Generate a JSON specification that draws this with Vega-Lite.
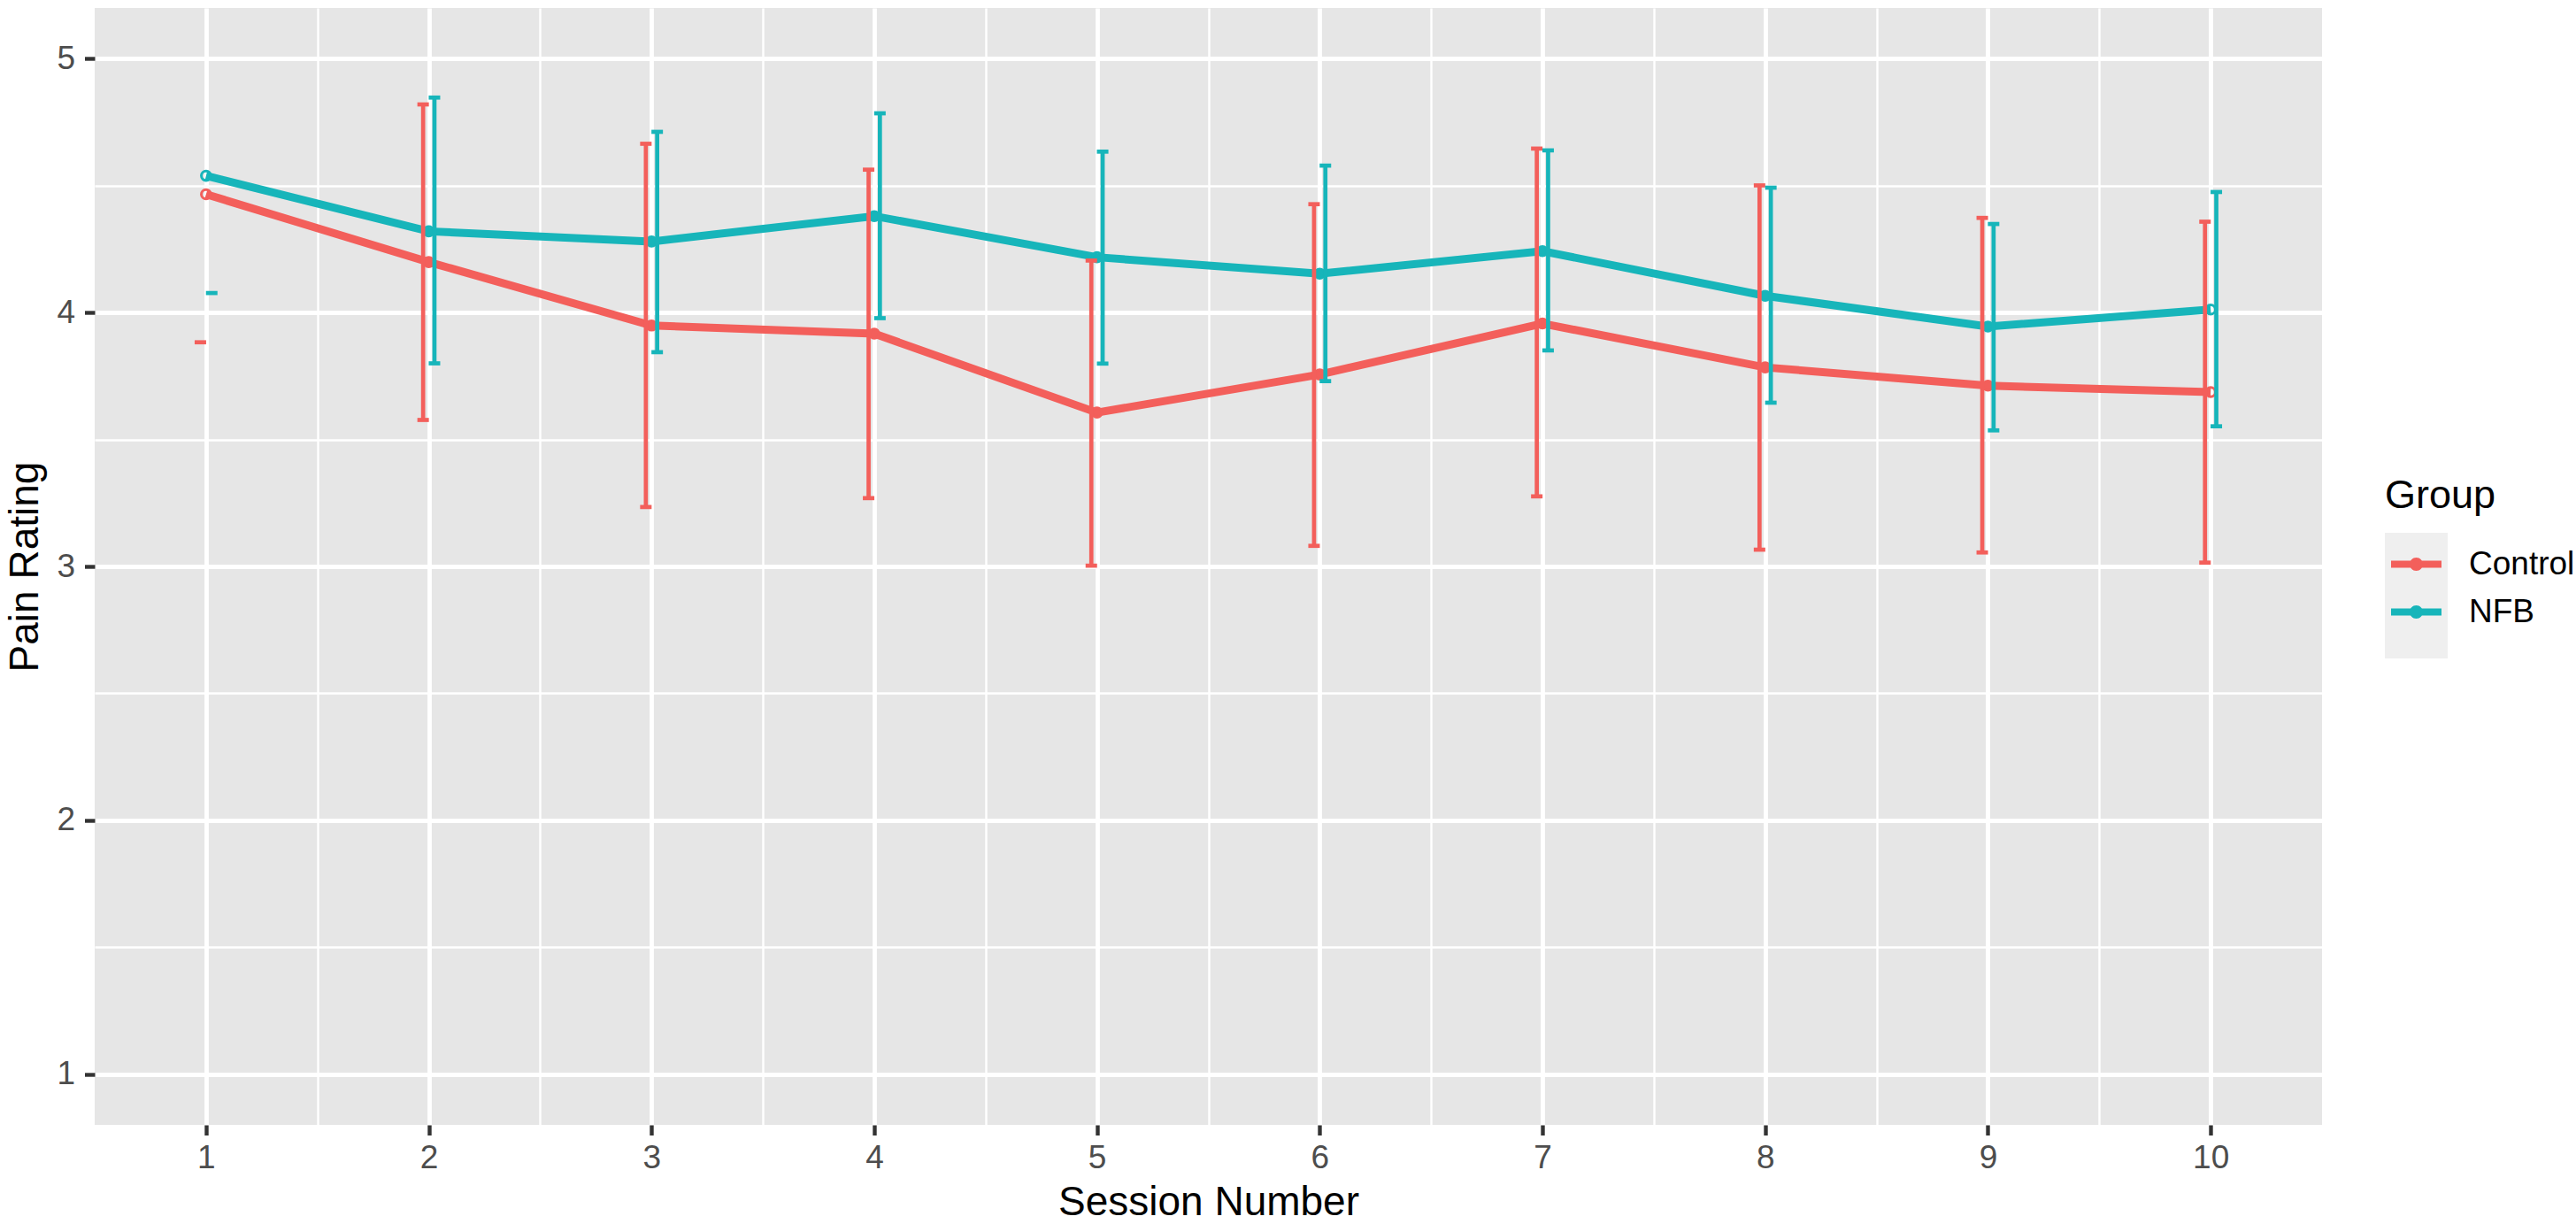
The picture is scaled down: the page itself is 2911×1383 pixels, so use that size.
{
  "$schema": "https://vega.github.io/schema/vega-lite/v6.json",
  "width": 2517,
  "height": 1262,
  "autosize": {"type": "none"},
  "padding": {"left": 107, "top": 9, "right": 287, "bottom": 112},
  "background": "white",
  "data": {
    "values": [
      {"Session": 1, "Group": "Control", "Mean": 4.466, "Lower": 3.883, "Upper": null},
      {"Session": 2, "Group": "Control", "Mean": 4.199, "Lower": 3.577, "Upper": 4.82},
      {"Session": 3, "Group": "Control", "Mean": 3.949, "Lower": 3.234, "Upper": 4.665},
      {"Session": 4, "Group": "Control", "Mean": 3.917, "Lower": 3.269, "Upper": 4.563},
      {"Session": 5, "Group": "Control", "Mean": 3.606, "Lower": 3.003, "Upper": 4.205},
      {"Session": 6, "Group": "Control", "Mean": 3.756, "Lower": 3.081, "Upper": 4.427},
      {"Session": 7, "Group": "Control", "Mean": 3.957, "Lower": 3.276, "Upper": 4.646},
      {"Session": 8, "Group": "Control", "Mean": 3.784, "Lower": 3.066, "Upper": 4.501},
      {"Session": 9, "Group": "Control", "Mean": 3.712, "Lower": 3.055, "Upper": 4.373},
      {"Session": 10, "Group": "Control", "Mean": 3.687, "Lower": 3.015, "Upper": 4.358},
      {"Session": 1, "Group": "NFB", "Mean": 4.539, "Lower": 4.077, "Upper": null},
      {"Session": 2, "Group": "NFB", "Mean": 4.32, "Lower": 3.8, "Upper": 4.847},
      {"Session": 3, "Group": "NFB", "Mean": 4.28, "Lower": 3.844, "Upper": 4.712},
      {"Session": 4, "Group": "NFB", "Mean": 4.38, "Lower": 3.978, "Upper": 4.785},
      {"Session": 5, "Group": "NFB", "Mean": 4.218, "Lower": 3.799, "Upper": 4.634},
      {"Session": 6, "Group": "NFB", "Mean": 4.153, "Lower": 3.73, "Upper": 4.579},
      {"Session": 7, "Group": "NFB", "Mean": 4.242, "Lower": 3.851, "Upper": 4.639},
      {"Session": 8, "Group": "NFB", "Mean": 4.066, "Lower": 3.645, "Upper": 4.492},
      {"Session": 9, "Group": "NFB", "Mean": 3.945, "Lower": 3.536, "Upper": 4.349},
      {"Session": 10, "Group": "NFB", "Mean": 4.012, "Lower": 3.552, "Upper": 4.475}
    ]
  },
  "encoding": {
    "x": {
      "field": "Session",
      "type": "quantitative",
      "title": "Session Number",
      "scale": {"domain": [0.5, 10.5], "nice": false, "zero": false},
      "axis": {
        "values": [1, 1.5, 2, 2.5, 3, 3.5, 4, 4.5, 5, 5.5, 6, 6.5, 7, 7.5, 8, 8.5, 9, 9.5, 10],
        "labelExpr": "datum.value % 1 === 0 ? format(datum.value, 'd') : ''",
        "tickOpacity": {"condition": {"test": "datum.value % 1 !== 0", "value": 0}, "value": 1},
        "gridWidth": {"condition": {"test": "datum.value % 1 !== 0", "value": 2.4}, "value": 4.8},
        "labelPadding": 8,
        "titleX": 1258.5,
        "titleY": 101,
        "titleBaseline": "alphabetic",
        "titleAlign": "center"
      }
    },
    "color": {
      "field": "Group",
      "type": "nominal",
      "scale": {"domain": ["Control", "NFB"], "range": ["#F35F5B", "#17B5BA"]},
      "legend": {
        "orient": "none",
        "legendX": 2588,
        "legendY": 528.5,
        "zindex": 2,
        "title": "Group",
        "titleFontSize": 45,
        "titleFontWeight": "normal",
        "titleColor": "black",
        "titlePadding": 19.5,
        "labelFontSize": 37,
        "labelColor": "black",
        "labelOffset": 24,
        "symbolType": "M-0.803,-0.113H0.803V0.113H-0.803Z M0.211,0A0.211,0.211,0,1,1,-0.211,0A0.211,0.211,0,1,1,0.211,0Z",
        "symbolSize": 5041,
        "symbolOffset": 0,
        "symbolStrokeWidth": 0,
        "rowPadding": 0,
        "padding": 0,
        "encode": {
          "symbols": {
            "update": {
              "fill": {"scale": "color", "field": "value"},
              "opacity": {"value": 1}
            }
          }
        }
      }
    }
  },
  "layer": [
    {
      "mark": {"type": "point", "filled": true, "opacity": 0},
      "encoding": {
        "y": {"field": "Mean", "type": "quantitative", "scale": {"domain": [0.8, 5.2], "nice": false, "zero": false}},
        "fill": {
          "field": "Group",
          "type": "nominal",
          "scale": {"range": ["#EFEFEF", "#EFEFEF"]},
          "legend": {
            "orient": "none",
            "legendX": 2588,
            "legendY": 593,
            "zindex": 1,
            "title": null,
            "labelExpr": "''",
            "labelFontSize": 1,
            "symbolType": "square",
            "symbolSize": 5041,
            "symbolStrokeWidth": 0,
            "symbolOffset": 0,
            "rowPadding": 0,
            "padding": 0,
            "encode": {
              "symbols": {"update": {"opacity": {"value": 1}, "fill": {"value": "#EFEFEF"}}}
            }
          }
        }
      }
    },
    {
      "mark": {"type": "line", "strokeWidth": 9},
      "encoding": {
        "y": {
          "field": "Mean",
          "type": "quantitative",
          "title": "Pain Rating",
          "scale": {"domain": [0.8, 5.2], "nice": false, "zero": false},
          "axis": {
            "values": [1, 1.5, 2, 2.5, 3, 3.5, 4, 4.5, 5],
            "labelExpr": "datum.value % 1 === 0 ? format(datum.value, 'd') : ''",
            "tickOpacity": {"condition": {"test": "datum.value % 1 !== 0", "value": 0}, "value": 1},
            "gridWidth": {"condition": {"test": "datum.value % 1 !== 0", "value": 2.4}, "value": 4.8},
            "labelPadding": 11,
            "titleX": -65,
            "titleY": 631,
            "titleAngle": 270,
            "titleBaseline": "alphabetic",
            "titleAlign": "center"
          }
        }
      }
    },
    {
      "mark": {"type": "point", "filled": false, "size": 113, "strokeWidth": 3, "opacity": 1},
      "encoding": {
        "y": {"field": "Mean", "type": "quantitative", "scale": {"domain": [0.8, 5.2], "nice": false, "zero": false}}
      }
    },
    {
      "transform": [{"filter": "datum.Group === 'Control' && isValid(datum.Upper)"}],
      "mark": {"type": "rule", "strokeWidth": 4.7, "xOffset": -6.4},
      "encoding": {
        "y": {"field": "Lower", "type": "quantitative", "scale": {"domain": [0.8, 5.2], "nice": false, "zero": false}},
        "y2": {"field": "Upper"}
      }
    },
    {
      "transform": [{"filter": "datum.Group === 'NFB' && isValid(datum.Upper)"}],
      "mark": {"type": "rule", "strokeWidth": 4.7, "xOffset": 6.4},
      "encoding": {
        "y": {"field": "Lower", "type": "quantitative", "scale": {"domain": [0.8, 5.2], "nice": false, "zero": false}},
        "y2": {"field": "Upper"}
      }
    },
    {
      "transform": [{"filter": "datum.Group === 'Control'"}],
      "mark": {"type": "tick", "orient": "horizontal", "size": 13, "thickness": 4.7, "xOffset": -6.4, "opacity": 1},
      "encoding": {
        "y": {"field": "Lower", "type": "quantitative", "scale": {"domain": [0.8, 5.2], "nice": false, "zero": false}}
      }
    },
    {
      "transform": [{"filter": "datum.Group === 'Control' && isValid(datum.Upper)"}],
      "mark": {"type": "tick", "orient": "horizontal", "size": 13, "thickness": 4.7, "xOffset": -6.4, "opacity": 1},
      "encoding": {
        "y": {"field": "Upper", "type": "quantitative", "scale": {"domain": [0.8, 5.2], "nice": false, "zero": false}}
      }
    },
    {
      "transform": [{"filter": "datum.Group === 'NFB'"}],
      "mark": {"type": "tick", "orient": "horizontal", "size": 13, "thickness": 4.7, "xOffset": 6.4, "opacity": 1},
      "encoding": {
        "y": {"field": "Lower", "type": "quantitative", "scale": {"domain": [0.8, 5.2], "nice": false, "zero": false}}
      }
    },
    {
      "transform": [{"filter": "datum.Group === 'NFB' && isValid(datum.Upper)"}],
      "mark": {"type": "tick", "orient": "horizontal", "size": 13, "thickness": 4.7, "xOffset": 6.4, "opacity": 1},
      "encoding": {
        "y": {"field": "Upper", "type": "quantitative", "scale": {"domain": [0.8, 5.2], "nice": false, "zero": false}}
      }
    }
  ],
  "config": {
    "font": "Liberation Sans",
    "view": {"fill": "#E6E6E6", "stroke": null},
    "axis": {
      "domain": false,
      "grid": true,
      "gridColor": "white",
      "gridOpacity": 1,
      "tickColor": "#333333",
      "tickWidth": 4.4,
      "tickSize": 11.5,
      "labelFont": "Liberation Sans",
      "labelFontSize": 37,
      "labelColor": "#4D4D4D",
      "titleFont": "Liberation Sans",
      "titleFontSize": 46,
      "titleFontWeight": "normal",
      "titleColor": "black"
    },
    "legend": {
      "labelFont": "Liberation Sans",
      "titleFont": "Liberation Sans"
    }
  }
}
